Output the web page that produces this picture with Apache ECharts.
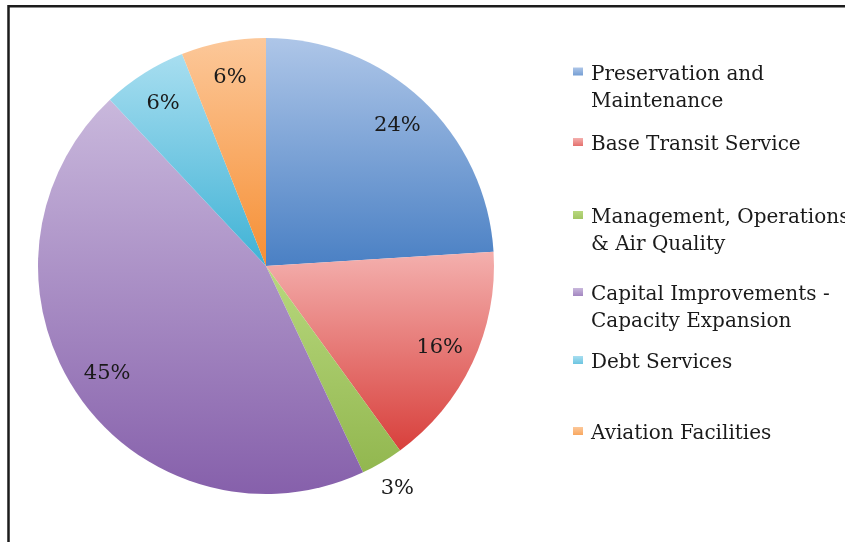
<!DOCTYPE html>
<html>
<head>
<meta charset="utf-8">
<script src="https://cdn.jsdelivr.net/npm/echarts@6/dist/echarts.min.js"></script>
<style>
  html, body { margin: 0; padding: 0; background: #fff; }
  #main { width: 845px; height: 542px; }
</style>
</head>
<body>
<div id="main"></div>
<script>
// categories and shares (%)
var names = [
  "Preservation and\nMaintenance",
  "Base Transit Service",
  "Management, Operations\n& Air Quality",
  "Capital Improvements -\nCapacity Expansion",
  "Debt Services",
  "Aviation Facilities"
];
var shares = [24, 16, 3, 45, 6, 6];
// light (top) / dark (bottom) colour of each slice
var topColors = ["#aec6e8", "#f4b0ae", "#b8d87e", "#c9b8dc", "#a8def0", "#fcc89a"];
var bottomColors = ["#4a80c4", "#d8403c", "#92b74f", "#8660ab", "#3fb2d5", "#f68f34"];
// first-line centre of each legend entry
var legendRows = [74.5, 145, 218, 295, 363, 434];
// the only label drawn outside the pie
var outsideIdx = 2;

var font = "DejaVu Serif";
var lineH = 27;

function grad(i) {
  return new echarts.graphic.LinearGradient(0, 0, 0, 1, [
    { offset: 0, color: topColors[i] },
    { offset: 1, color: bottomColors[i] }
  ]);
}

var mainData = names.map(function (n, i) {
  return { name: n, value: shares[i], itemStyle: { color: grad(i) } };
});
var innerLabelData = names.map(function (n, i) {
  return { name: n, value: shares[i], label: { show: i !== outsideIdx } };
});
var outerLabelData = names.map(function (n, i) {
  return { name: n, value: shares[i], label: { show: i === outsideIdx } };
});

var myChart = echarts.init(document.getElementById("main"));

var labelStyle = {
  position: "inside",
  formatter: "{c}%",
  fontFamily: font,
  fontSize: 21,
  color: "#1a1a1a"
};

// two-line entries get a blank line on top so the icon sits by the first line
function legendText(name) {
  return name.indexOf("\n") >= 0 ? "\n" + name : name;
}

var option = {
  animation: false,
  graphic: [
    {
      type: "rect",
      shape: { x: 8.5, y: 6.2, width: 900, height: 600 },
      style: { fill: null, stroke: "#1c1c1c", lineWidth: 2.5 },
      silent: true
    }
  ],
  legend: names.map(function (n, i) {
    var lines = legendText(n).split("\n").length;
    return {
      data: [n],
      orient: "vertical",
      left: 573,
      top: legendRows[i] - lines * lineH / 2,
      padding: 0,
      itemWidth: 10,
      itemHeight: 14,
      itemGap: 0,
      itemStyle: { borderWidth: 0 },
      icon: "path://M0,0H10V8H0ZM0,14",
      selectedMode: false,
      formatter: legendText,
      textStyle: {
        fontFamily: font,
        fontSize: 20,
        color: "#1a1a1a",
        lineHeight: lineH,
        padding: [0, 0, 0, 3],
        backgroundColor: "rgba(255,255,255,0)"
      }
    };
  }),
  series: [
    {
      name: "main",
      type: "pie",
      center: [266, 266],
      radius: [0, 228],
      startAngle: 90,
      clockwise: true,
      avoidLabelOverlap: false,
      label: { show: false },
      labelLine: { show: false },
      emphasis: { disabled: true },
      itemStyle: { borderWidth: 0 },
      data: mainData
    },
    {
      name: "innerLabels",
      type: "pie",
      center: [266, 266],
      radius: [0, 378],
      startAngle: 90,
      silent: true,
      avoidLabelOverlap: false,
      itemStyle: { color: "rgba(0,0,0,0)", borderWidth: 0 },
      label: labelStyle,
      labelLine: { show: false },
      emphasis: { disabled: true },
      data: innerLabelData
    },
    {
      name: "outerLabels",
      type: "pie",
      center: [266, 266],
      radius: [0, 510],
      startAngle: 90,
      silent: true,
      avoidLabelOverlap: false,
      itemStyle: { color: "rgba(0,0,0,0)", borderWidth: 0 },
      label: labelStyle,
      labelLine: { show: false },
      emphasis: { disabled: true },
      data: outerLabelData
    }
  ]
};

option && myChart.setOption(option);
</script>
</body>
</html>
